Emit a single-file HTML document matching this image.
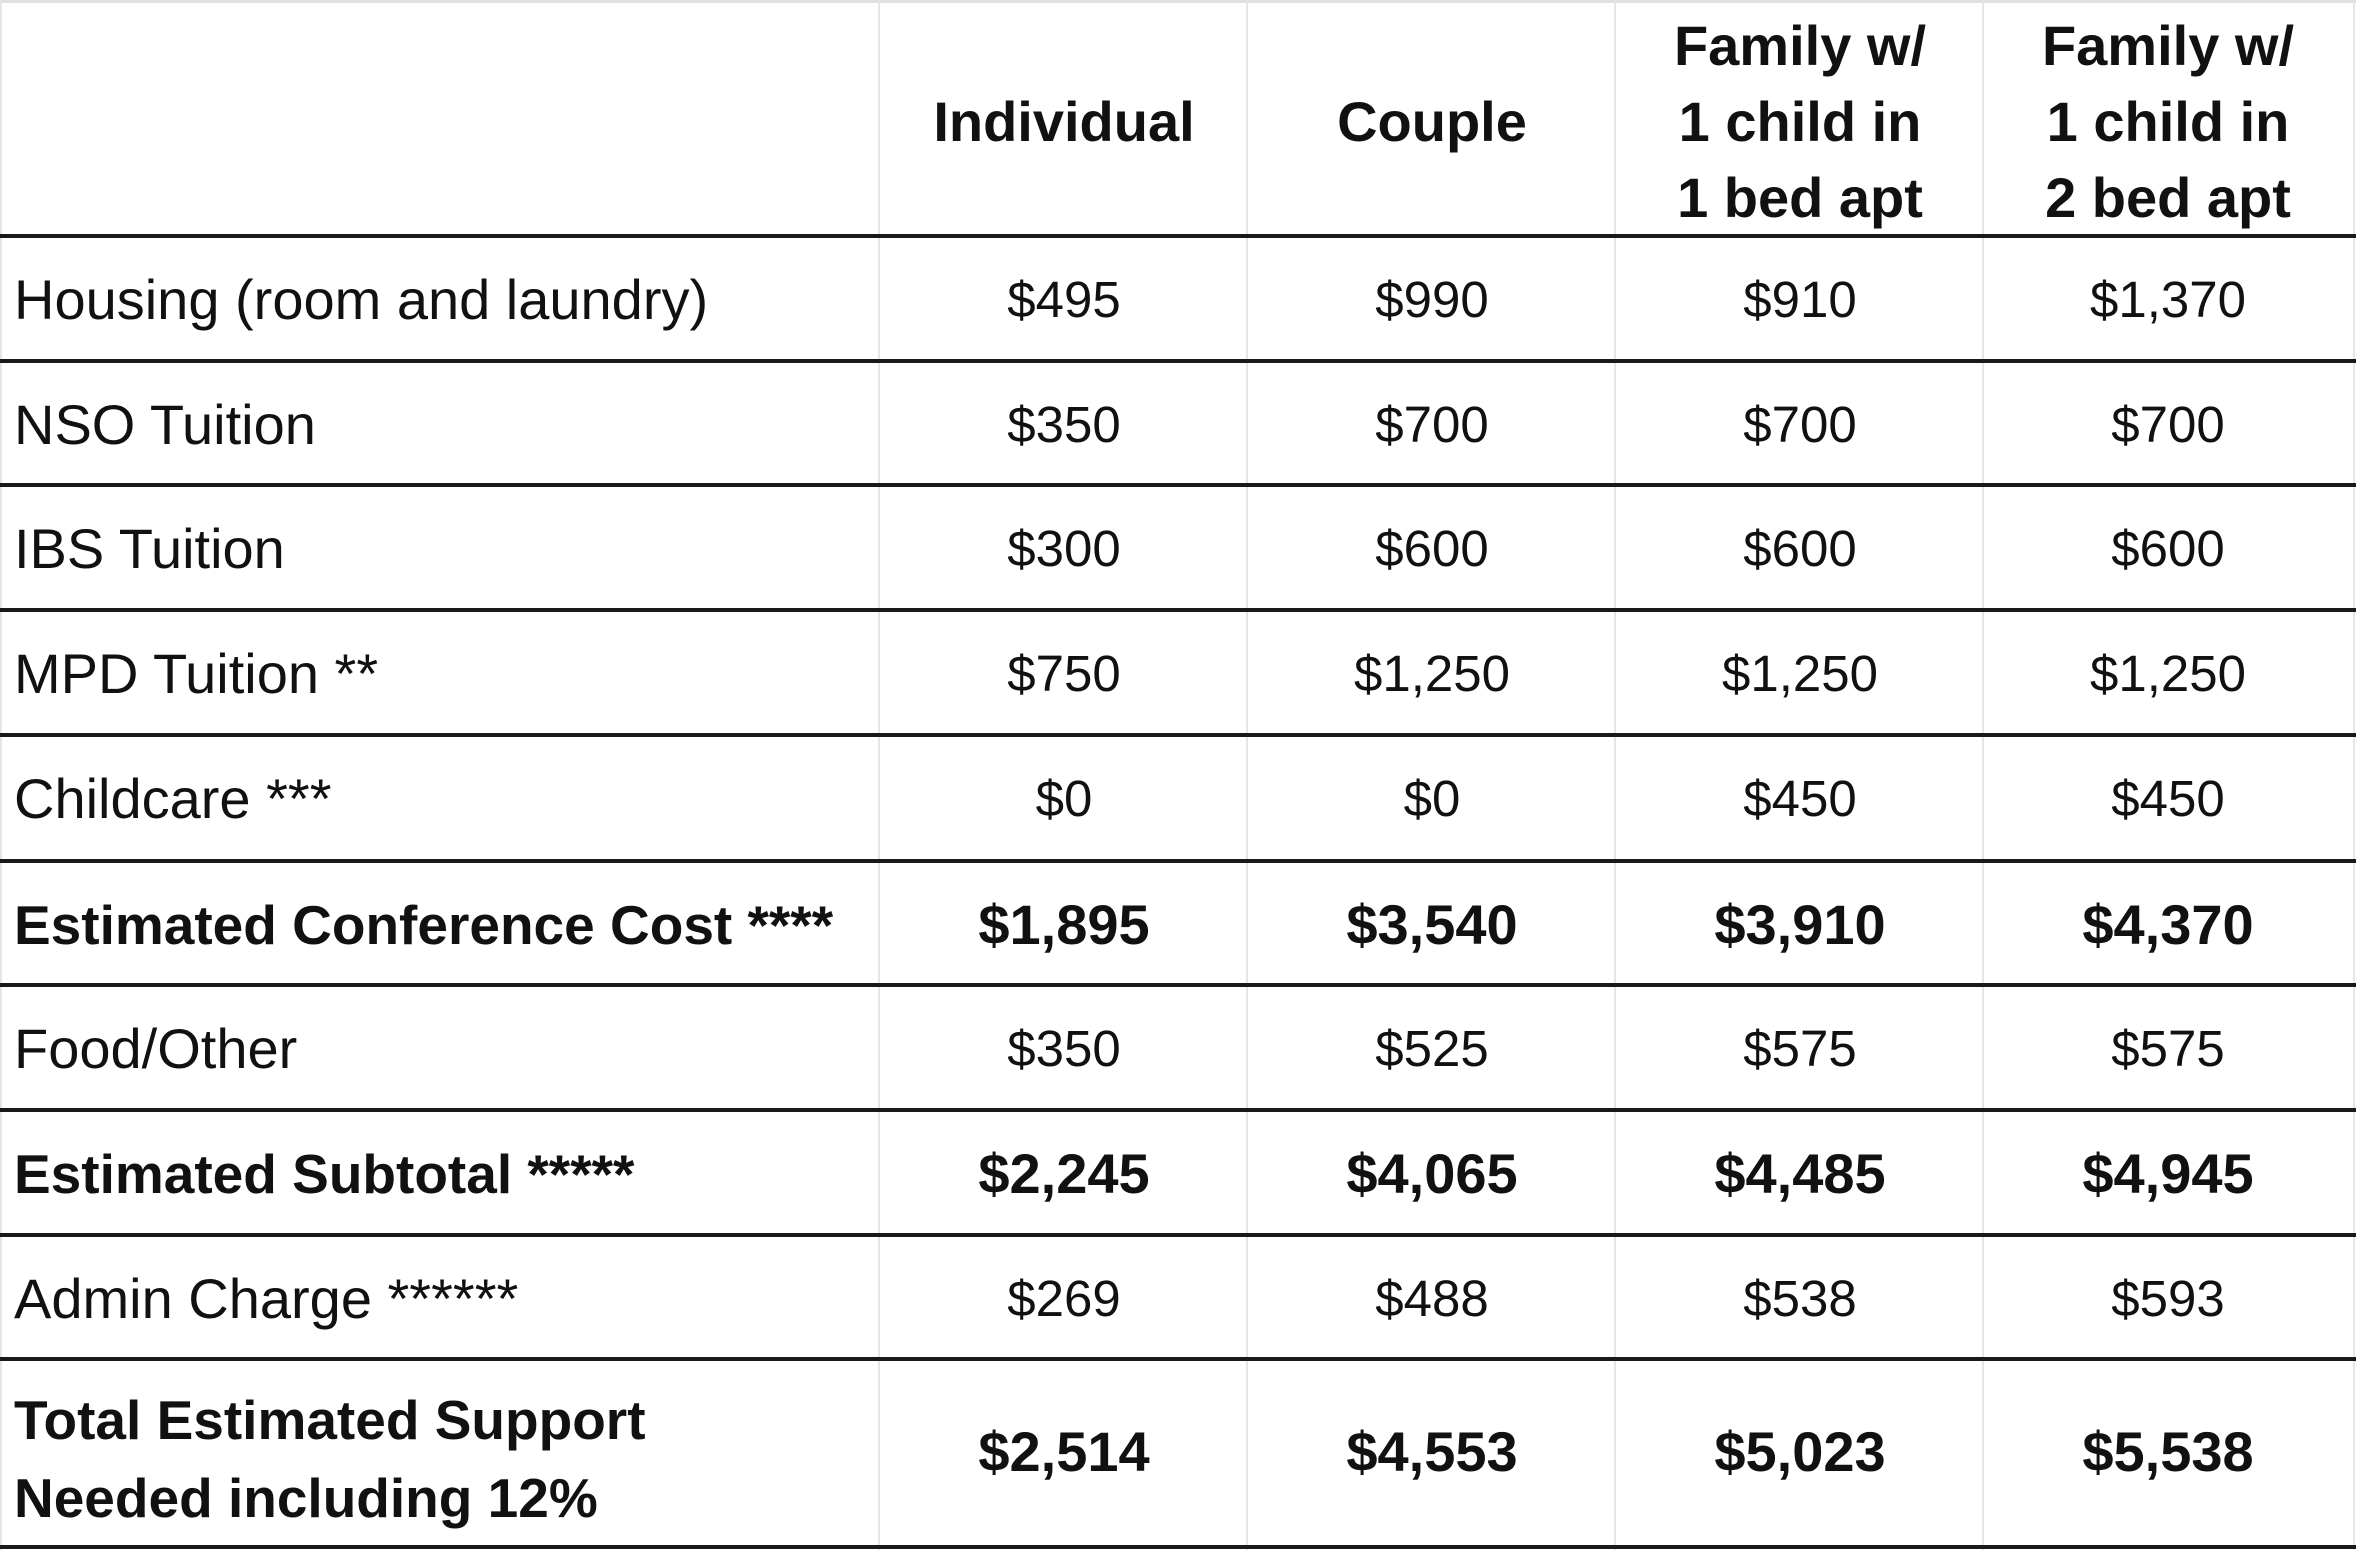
<!DOCTYPE html>
<html><head><style>
body{margin:0;width:2356px;height:1550px;background:#fff;overflow:hidden;position:relative;font-family:"Liberation Sans",sans-serif;color:#111}
.h{position:absolute;left:0;width:2356px;height:4px;background:#1a1a1a}
.v{position:absolute;top:0;width:2px;height:1550px;background:#e6e6e6}
.t{position:absolute;font-size:56px;line-height:56px;white-space:nowrap}
.t.b{font-size:55px}
.c{position:absolute;font-size:51px;line-height:56px;text-align:center;width:368px}
.c.b{font-size:56px}
.b{font-weight:bold}
.hd{position:absolute;font-size:56px;font-weight:bold;line-height:76px;text-align:center;width:368px}
</style></head><body>
<div style="position:absolute;left:0;top:0;width:2356px;height:3px;background:#e0e0e0"></div>
<div class="v" style="left:0"></div>
<div class="v" style="left:878px"></div>
<div class="v" style="left:1246px"></div>
<div class="v" style="left:1614px"></div>
<div class="v" style="left:1982px"></div>
<div class="v" style="left:2353px"></div>
<div class="h" style="top:234px"></div>
<div class="h" style="top:359px"></div>
<div class="h" style="top:483px"></div>
<div class="h" style="top:608px"></div>
<div class="h" style="top:733px"></div>
<div class="h" style="top:859px"></div>
<div class="h" style="top:983px"></div>
<div class="h" style="top:1108px"></div>
<div class="h" style="top:1233px"></div>
<div class="h" style="top:1357px"></div>
<div class="h" style="top:1545px"></div>

<div class="hd" style="left:880px;top:84px">Individual</div>
<div class="hd" style="left:1248px;top:84px">Couple</div>
<div class="hd" style="left:1616px;top:8px">Family w/<br>1 child in<br>1 bed apt</div>
<div class="hd" style="left:1984px;top:8px">Family w/<br>1 child in<br>2 bed apt</div>

<div id="rows"></div>
<script>
var rows=[
["Housing (room and laundry)","$495","$990","$910","$1,370",0],
["NSO Tuition","$350","$700","$700","$700",0],
["IBS Tuition","$300","$600","$600","$600",0],
["MPD Tuition **","$750","$1,250","$1,250","$1,250",0],
["Childcare ***","$0","$0","$450","$450",0],
["Estimated Conference Cost ****","$1,895","$3,540","$3,910","$4,370",1],
["Food/Other","$350","$525","$575","$575",0],
["Estimated Subtotal *****","$2,245","$4,065","$4,485","$4,945",1],
["Admin Charge ******","$269","$488","$538","$593",0]];
var tops=[236,361,485,610,735,861,985,1110,1235];
var h="";
rows.forEach(function(r,i){var y=tops[i]+(125-56)/2+1;var b=r[5]?" b":"";
h+='<div class="t'+b+'" style="left:14px;top:'+y+'px">'+r[0]+'</div>';
for(var k=1;k<5;k++)h+='<div class="c'+b+'" style="left:'+(880+(k-1)*368)+'px;top:'+y+'px">'+r[k]+'</div>';});
var y=1359+(188-56)/2-1;
h+='<div class="t b" style="left:14px;top:1381px;line-height:78px">Total Estimated Support<br>Needed including 12%</div>';
["$2,514","$4,553","$5,023","$5,538"].forEach(function(v,k){h+='<div class="c b" style="left:'+(880+k*368)+'px;top:'+y+'px">'+v+'</div>';});
document.getElementById("rows").innerHTML=h;
</script>
</body></html>
